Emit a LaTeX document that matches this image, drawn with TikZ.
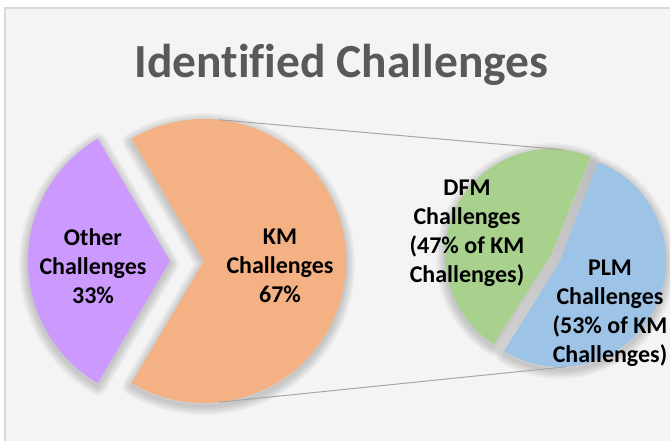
\documentclass[tikz,border=0pt]{standalone}
\usepackage{fontspec}
\setmainfont[Ligatures=NoCommon]{Carlito}
\usepackage{xcolor}
\usetikzlibrary{calc,positioning}
\definecolor{kmorange}{HTML}{F4B183}
\definecolor{otherpurple}{HTML}{CC99FF}
\definecolor{dfmgreen}{HTML}{A9D18E}
\definecolor{plmblue}{HTML}{9DC3E6}
\definecolor{chartbg}{HTML}{F4F4F4}
\definecolor{titlegray}{HTML}{595959}
\tikzset{%
	sliceshadow/.style = {draw=black, opacity=0.03, line join=round}, % Soft shadow ring
	slicetext/.style   = {align=center, font=\bfseries\fontsize{24}{29}\selectfont}, % Slice label
	heading/.style     = {text=titlegray, font=\bfseries\fontsize{47.5}{50}\selectfont}, % Title
	leader/.style      = {draw=black!35, line width=1pt}, % Pie-of-pie lines
}

\begin{document}
\begin{tikzpicture}[x=1pt,y=1pt]
	\useasboundingbox (0,0) rectangle (670,440);
	\fill[white] (0,0) rectangle (670,440);
	\draw[fill=chartbg,draw=black!15,line width=1.5pt] (5,-10) rectangle (690,432);
	
	% slice centres
	\coordinate (other) at (170,179);
	\coordinate (km) at (204,179);
	\coordinate (dfm) at (551,185);
	\coordinate (plm) at (560,179);
	
	% shadows first, then the slices
	\foreach \c/\a/\b/\r in {other/120.6/239.4/142, km/-120.6/120.6/142, dfm/68/237.2/106, plm/-121.8/69/106}{
		\foreach \w in {3,6,...,18}
			\draw[sliceshadow,line width=\w pt] ($(\c)+(0,-3)$) -- ++(\a:\r pt) arc[start angle=\a, end angle=\b, radius=\r pt] -- cycle;
	}
	\foreach \c/\a/\b/\r/\col in {other/120.6/239.4/142/otherpurple, km/-120.6/120.6/142/kmorange, dfm/68/237.2/106/dfmgreen, plm/-121.8/69/106/plmblue}
		\fill[\col] (\c) -- ++(\a:\r pt) arc[start angle=\a, end angle=\b, radius=\r pt] -- cycle;
	
	% leader lines
	\coordinate (kmtop) at ($(km)+(84:142pt)$);
	\coordinate (kmbot) at ($(km)+(-84:142pt)$);
	\coordinate (dfmtop) at ($(dfm)+(83.5:106pt)$);
	\coordinate (plmbot) at ($(plm)+(-87:106pt)$);
	\draw[leader] (kmtop) -- (dfmtop);
	\draw[leader] (kmbot) -- (plmbot);
	
	\node[heading,anchor=base] (title) at (341.5,362) {Identified Challenges};
	\node[slicetext] (othertext) at (93,174) {Other\\Challenges\\33\%};
	\node[slicetext] (kmtext) at (280,174) {KM\\Challenges\\67\%};
	\node[slicetext] (dfmtext) at (467,207) {DFM\\Challenges\\(47\% of KM\\Challenges)};
	\node[slicetext] (plmtext) at (610,127) {PLM\\Challenges\\(53\% of KM\\Challenges)};
\end{tikzpicture}
\end{document}
